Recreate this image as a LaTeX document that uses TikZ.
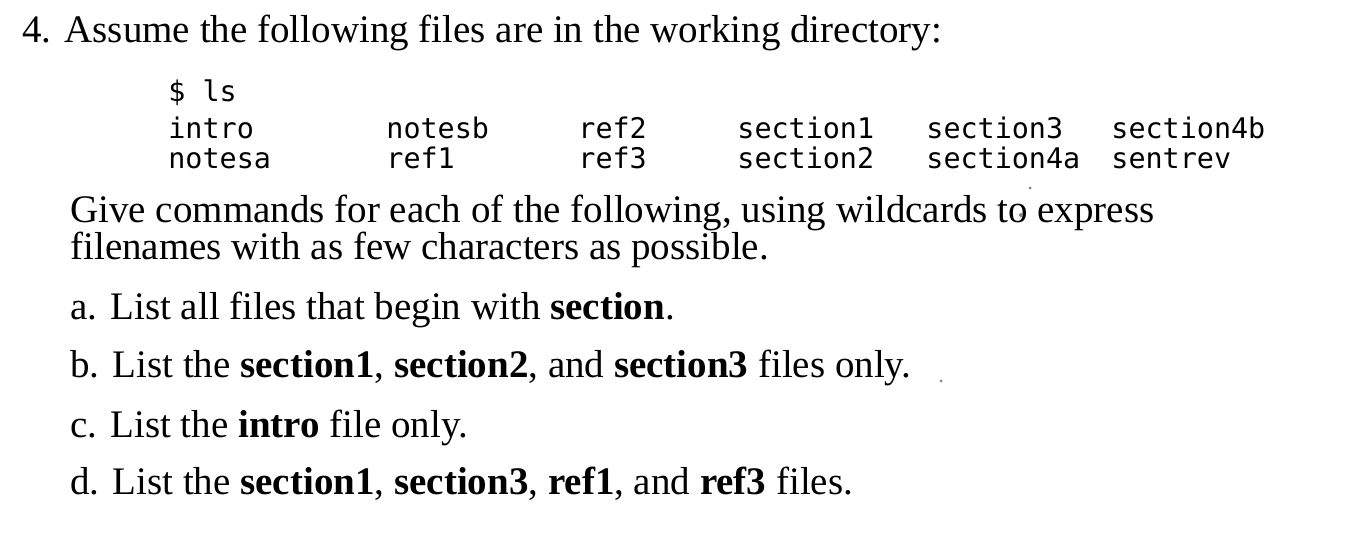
\documentclass[tikz,border=0pt]{standalone}
\usepackage{fontspec}
\setmainfont{Liberation Serif}
\newfontfamily\monof{DejaVu Sans Mono}
\begin{document}
\begin{tikzpicture}[x=0.5pt,y=-0.5pt,
  txt/.style={anchor=base west,inner sep=0pt,font=\fontsize{19.5}{22}\selectfont},
  mono/.style={anchor=base west,inner sep=0pt,font=\monof\fontsize{14.2}{16}\selectfont}]
\useasboundingbox[fill=white] (0,0) rectangle (1368,538);
\node[txt] (t1) at (22,42) {4. Assume the following files are in the working directory:};
\node[mono] (ls) at (168,101) {\$ ls};
\node[mono] (c11) at (168,138) {intro};
\node[mono] (c12) at (386,138) {notesb};
\node[mono] (c13) at (578,138) {ref2};
\node[mono] (c14) at (737,138) {section1};
\node[mono] (c15) at (926,138) {section3};
\node[mono] (c16) at (1111,138) {section4b};
\node[mono] (c21) at (168,168) {notesa};
\node[mono] (c22) at (386,168) {ref1};
\node[mono] (c23) at (578,168) {ref3};
\node[mono] (c24) at (737,168) {section2};
\node[mono] (c25) at (926,168) {section4a};
\node[mono] (c26) at (1111,168) {sentrev};
\node[txt] (g1) at (70,222) {Give commands for each of the following, using wildcards to express};
\node[txt] (g2) at (70,259) {filenames with as few characters as possible.};
\node[txt] (a) at (70,319) {a. List all files that begin with \textbf{section}.};
\node[txt] (b) at (70,377) {b. List the \textbf{section1}, \textbf{section2}, and \textbf{section3} files only.};
\node[txt] (c) at (70,437) {c. List the \textbf{intro} file only.};
\node[txt] (d) at (70,494) {d. List the \textbf{section1}, \textbf{section3}, \textbf{ref1}, and \textbf{ref3} files.};
\fill[gray] (1030,188) circle (1.5) (1021,215) circle (2) (941,381) circle (1.5);
\end{tikzpicture}
\end{document}
